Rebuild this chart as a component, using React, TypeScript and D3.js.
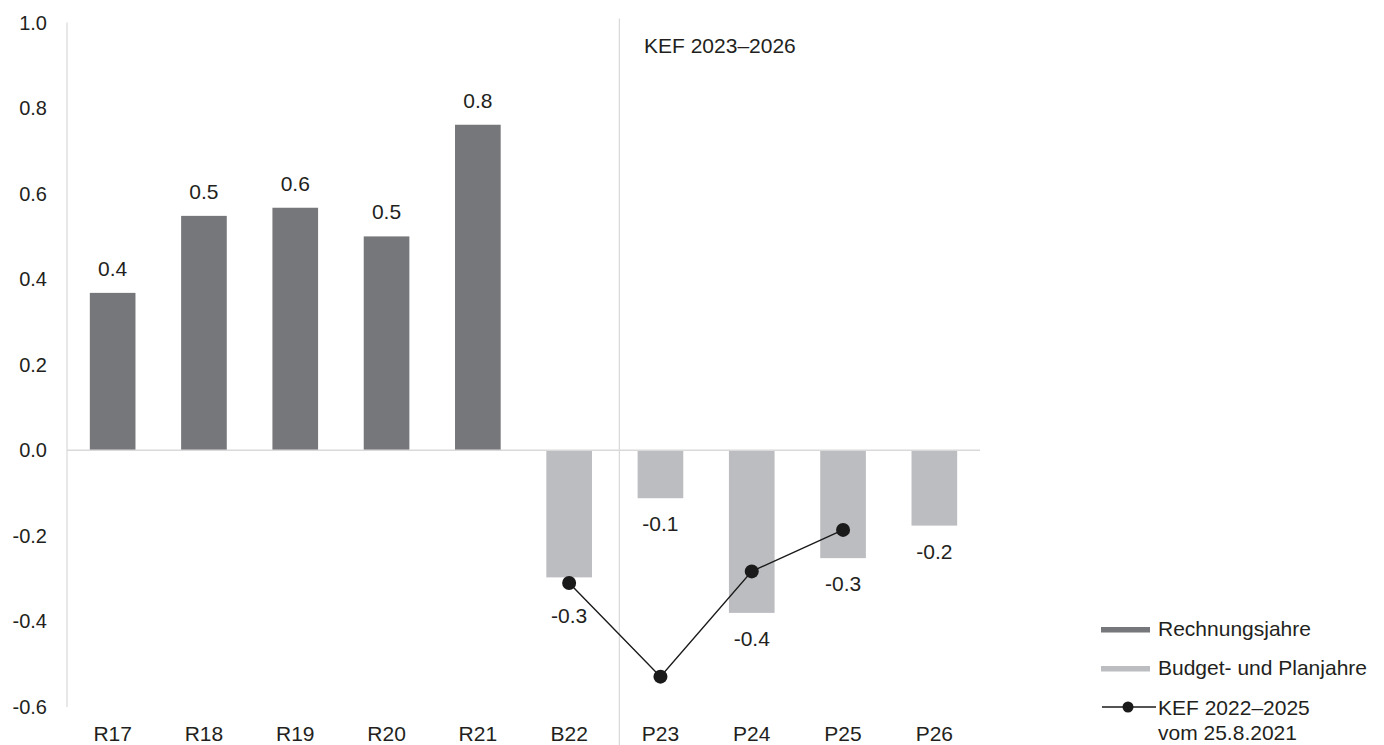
import React from "react";
import * as d3 from "d3";

// Saldo der Erfolgsrechnung in Mrd. Franken
const categories = ["R17", "R18", "R19", "R20", "R21", "B22", "P23", "P24", "P25", "P26"];
const actualYears = ["R17", "R18", "R19", "R20", "R21"];
const barValues = [0.368, 0.548, 0.567, 0.5, 0.761, -0.297, -0.112, -0.38, -0.252, -0.176];
const kefCategories = ["B22", "P23", "P24", "P25"];
const kefValues = [-0.31, -0.529, -0.283, -0.186];
const yTicks = [1.0, 0.8, 0.6, 0.4, 0.2, 0.0, -0.2, -0.4, -0.6];
const legendLabels = ["Rechnungsjahre", "Budget- und Planjahre", "KEF 2022–2025", "vom 25.8.2021"];
const periodLabel = "KEF 2023–2026";

const W = 1384;
const H = 745;
const FONT = "'Liberation Sans', Arial, Helvetica, sans-serif";
const FS = 21;
const TEXT = "#231f20";
const DARK = "#76777b";
const LIGHT = "#bcbdc0";
const GRID = "#d9d9d9";

// plain hyphen as minus sign
const locale = d3.formatLocale({
  decimal: ".",
  thousands: "'",
  grouping: [3],
  currency: ["", ""],
  minus: "-",
});
const fmt = locale.format(".1f");

export default function App() {
  const x = d3.scaleBand<string>().domain(categories).range([67, 980]).paddingInner(0.5).paddingOuter(0.25);
  const y = d3.scaleLinear().domain([-0.6, 1.0]).range([707, 22.5]);
  const bw = x.bandwidth();
  const cx = (c: string) => (x(c) ?? 0) + bw / 2;

  const line = d3
    .line<number>()
    .x((_, i) => cx(kefCategories[i]))
    .y((v) => y(v));

  const sepX = (x("P23") ?? 0) - x.step() * 0.2;

  // value label position; negative labels move below a KEF marker sitting at the bar end
  const labelY = (c: string, v: number) => {
    if (v >= 0) return y(v) - 17;
    let ly = y(v) + 33;
    const k = kefCategories.indexOf(c);
    if (k >= 0) {
      const py = y(kefValues[k]);
      if (py > y(v) - 5 && py - y(v) < 30) ly = Math.max(ly, py + 40);
    }
    return ly;
  };

  return (
    <svg
      width={W}
      height={H}
      style={{ position: "absolute", left: 0, top: 0, background: "#fff" }}
      fontFamily={FONT}
    >
      {/* value axis line */}
      <line x1={67} x2={67} y1={y(1.0)} y2={y(-0.6)} stroke={GRID} strokeWidth={1.2} />
      {/* separator between budget year and plan years */}
      <line x1={sepX} x2={sepX} y1={y(1.0) - 4} y2={H} stroke={GRID} strokeWidth={1.2} />

      {yTicks.map((t) => (
        <text key={t} x={47} y={y(t)} dy="0.35em" textAnchor="end" fontSize={20} fill={TEXT}>
          {fmt(t)}
        </text>
      ))}

      {categories.map((c, i) => {
        const v = barValues[i];
        const top = Math.min(y(v), y(0));
        const h = Math.abs(y(v) - y(0));
        const color = actualYears.includes(c) ? DARK : LIGHT;
        return (
          <g key={c}>
            <rect x={x(c)} y={top} width={bw} height={h} fill={color} />
            <text x={cx(c)} y={labelY(c, v)} textAnchor="middle" fontSize={FS} fill={TEXT}>
              {fmt(v)}
            </text>
            <text x={cx(c)} y={741} textAnchor="middle" fontSize={FS} fill={TEXT}>
              {c}
            </text>
          </g>
        );
      })}

      {/* zero line */}
      <line x1={67} x2={980} y1={y(0)} y2={y(0)} stroke={GRID} strokeWidth={1.5} />

      <path d={line(kefValues) ?? ""} fill="none" stroke="#1a1a1a" strokeWidth={1.4} />
      {kefValues.map((v, i) => (
        <circle key={kefCategories[i]} cx={cx(kefCategories[i])} cy={y(v)} r={7} fill="#1a1a1a" />
      ))}

      <text x={644} y={53} fontSize={FS} fill={TEXT}>
        {periodLabel}
      </text>

      {/* legend */}
      <g>
        <rect x={1101} y={627} width={49} height={5.5} fill={DARK} />
        <text x={1158} y={629} dy="0.35em" fontSize={FS} fill={TEXT}>
          {legendLabels[0]}
        </text>
        <rect x={1101} y={666} width={49} height={5.5} fill={LIGHT} />
        <text x={1158} y={668} dy="0.35em" fontSize={FS} fill={TEXT}>
          {legendLabels[1]}
        </text>
        <line x1={1102} x2={1156} y1={707} y2={707} stroke="#1a1a1a" strokeWidth={1.4} />
        <circle cx={1128} cy={707} r={5.5} fill="#1a1a1a" />
        <text x={1158} y={708} dy="0.35em" fontSize={FS} fill={TEXT}>
          {legendLabels[2]}
        </text>
        <text x={1158} y={733} dy="0.35em" fontSize={FS} fill={TEXT}>
          {legendLabels[3]}
        </text>
      </g>
    </svg>
  );
}
